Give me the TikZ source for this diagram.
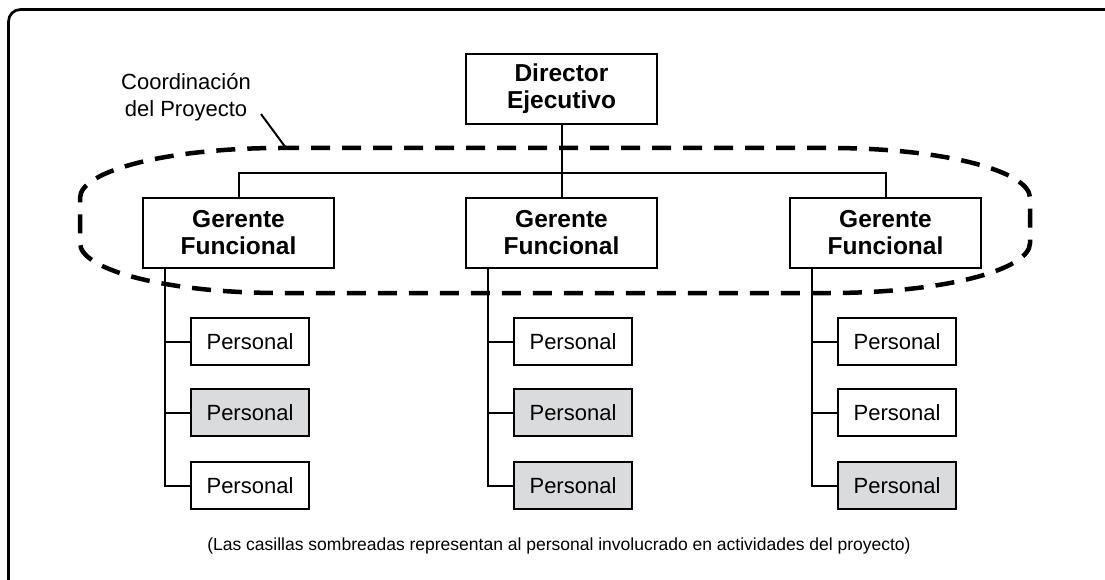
\documentclass[tikz,border=0pt]{standalone}
\usepackage{fontspec}
\setmainfont{Liberation Sans}
\definecolor{sombra}{RGB}{218,219,221}

\begin{document}
\begin{tikzpicture}[x=1pt, y=-1pt,
    jefe/.style={draw, line width=2pt, minimum width=191pt, minimum height=70pt, inner sep=0pt, align=center, font=\fontsize{24.5}{27}\selectfont\bfseries},
    pers/.style={draw, line width=2pt, minimum width=118pt, minimum height=47pt, inner sep=0pt, font=\fontsize{22}{24}\selectfont},
    somb/.style={pers, fill=sombra},
    enlace/.style={line width=2pt},
    grupo/.style={line width=4.5pt, dash pattern=on 19pt off 12pt}]
  \useasboundingbox (0,0) rectangle (1105,580);
  \draw [line width=2.7pt, rounded corners=12pt] (8.5,600) -- (8.5,9.5) -- (1120,9.5);

  \node [jefe] (DE) at (561.5, 89) {Director\\Ejecutivo};
  \node [jefe] (GL) at (238.5, 233) {Gerente\\Funcional};
  \node [jefe] (GM) at (561.5, 233) {Gerente\\Funcional};
  \node [jefe] (GR) at (885.5, 233) {Gerente\\Funcional};

  \node [pers] (PL1) at (250, 341.5) {Personal};
  \node [somb] (PL2) at (250, 412.5) {Personal};
  \node [pers] (PL3) at (250, 485.5) {Personal};
  \node [pers] (PM1) at (573, 341.5) {Personal};
  \node [somb] (PM2) at (573, 412.5) {Personal};
  \node [somb] (PM3) at (573, 485.5) {Personal};
  \node [pers] (PR1) at (897, 341.5) {Personal};
  \node [pers] (PR2) at (897, 412.5) {Personal};
  \node [somb] (PR3) at (897, 485.5) {Personal};

  \draw [enlace] (DE) -- (GM);
  \draw [enlace] (GL.north) -- ++(0,-24) -| (GR.north);

  \coordinate (SL) at ([xshift=23pt]GL.south west);
  \coordinate (SM) at ([xshift=23pt]GM.south west);
  \coordinate (SR) at ([xshift=23pt]GR.south west);
  \draw [enlace] (SL) |- (PL3.west);
  \draw [enlace] (PL1.west) -- (PL1.west -| SL);
  \draw [enlace] (PL2.west) -- (PL2.west -| SL);
  \draw [enlace] (SM) |- (PM3.west);
  \draw [enlace] (PM1.west) -- (PM1.west -| SM);
  \draw [enlace] (PM2.west) -- (PM2.west -| SM);
  \draw [enlace] (SR) |- (PR3.west);
  \draw [enlace] (PR1.west) -- (PR1.west -| SR);
  \draw [enlace] (PR2.west) -- (PR2.west -| SR);

  \draw [grupo] (280,148) -- (830,148)
    .. controls (940.5,148) and (1030,170.4) .. (1030,198) -- (1030,243)
    .. controls (1030,270.6) and (940.5,293) .. (830,293) -- (280,293)
    .. controls (169.5,293) and (80,270.6) .. (80,243) -- (80,198)
    .. controls (80,170.4) and (169.5,148) .. cycle;

  \node [align=center, inner sep=0pt, font=\fontsize{22}{27}\selectfont] (CP) at (186, 97) {Coordinación\\del Proyecto};
  \coordinate (CT) at (286, 148);
  \draw [enlace] ([shift={(10,-7)}]CP.south east) -- (CT);

  \node [font=\fontsize{17.5}{19}\selectfont] (NT) at (559, 546) {(Las casillas sombreadas representan al personal involucrado en actividades del proyecto)};
\end{tikzpicture}
\end{document}
